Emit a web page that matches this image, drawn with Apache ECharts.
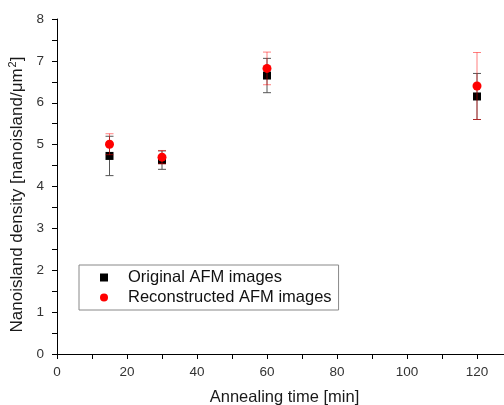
<!DOCTYPE html>
<html><head><meta charset="utf-8">
<script src="https://cdn.jsdelivr.net/npm/echarts@6/dist/echarts.min.js"></script>
<style>html,body{margin:0;padding:0;background:#fff}#c{width:504px;height:405px}</style>
</head><body><div id="c"></div>
<script>
const times = [15, 30, 60, 120];
const original = [4.73, 4.63, 6.65, 6.15];
const originalErr = [0.47, 0.22, 0.41, 0.55];
const reconstructed = [5.01, 4.70, 6.82, 6.40];
const reconstructedErr = [0.25, 0.16, 0.39, 0.80];
const xTicks = [0, 20, 40, 60, 80, 100, 120];
const yTicks = [0, 1, 2, 3, 4, 5, 6, 7, 8];

const FONT = '"Liberation Sans", Arial, sans-serif';
const chart = echarts.init(document.getElementById('c'), null, {renderer: 'canvas'});

function pts(v) { return times.map((t, i) => [t, v[i]]); }
function errs(v, e) { return times.map((t, i) => [t, v[i] - e[i], v[i] + e[i]]); }
function errRender(color) {
  return function (params, api) {
    const x = api.value(0);
    const lo = api.coord([x, api.value(1)]);
    const hi = api.coord([x, api.value(2)]);
    const hw = 4;
    const st = {stroke: color, lineWidth: 1, fill: null};
    return {type: 'group', children: [
      {type: 'line', shape: {x1: lo[0], y1: lo[1], x2: hi[0], y2: hi[1]}, style: st},
      {type: 'line', shape: {x1: lo[0] - hw, y1: lo[1], x2: lo[0] + hw, y2: lo[1]}, style: st},
      {type: 'line', shape: {x1: hi[0] - hw, y1: hi[1], x2: hi[0] + hw, y2: hi[1]}, style: st}
    ]};
  };
}

chart.setOption({
  animation: false,
  backgroundColor: '#fff',
  grid: {left: 57, right: -8, top: 19, bottom: 51, containLabel: false, outerBoundsMode: 'none'},
  xAxis: {
    type: 'value', min: 0, max: 130, interval: 10,
    name: 'Annealing time [min]', nameLocation: 'middle', nameGap: 35,
    nameTextStyle: {fontFamily: FONT, fontSize: 16.5, color: '#1a1a1a'},
    axisLine: {show: true, onZero: false, lineStyle: {color: '#000', width: 1}},
    axisTick: {show: true, inside: false, length: 5, lineStyle: {color: '#000'}},
    axisLabel: {fontFamily: FONT, fontSize: 13.5, color: '#333', margin: 11,
      formatter: v => xTicks.includes(v) ? String(v) : ''},
    splitLine: {show: false}
  },
  yAxis: {
    type: 'value', min: 0, max: 8, interval: 0.5,
    name: '{a|Nanoisland density [nanoisland/\u03bcm}{s|2}{a|]}',
    nameLocation: 'middle', nameGap: 28, nameRotate: 90,
    nameTextStyle: {padding: [0, 16, 0, 0], rich: {
      a: {fontFamily: FONT, fontSize: 17, color: '#1a1a1a'},
      s: {fontFamily: FONT, fontSize: 11, color: '#1a1a1a', verticalAlign: 'top', padding: [0, 0, 8, 1]}
    }},
    axisLine: {show: true, onZero: false, lineStyle: {color: '#000', width: 1}},
    axisTick: {show: true, inside: false, length: 5, lineStyle: {color: '#000'}},
    axisLabel: {fontFamily: FONT, fontSize: 13.5, color: '#333', margin: 13,
      formatter: v => yTicks.includes(v) ? String(v) : ''},
    splitLine: {show: false}
  },
  legend: {
    orient: 'vertical', left: 79, top: 265,
    borderColor: '#888', borderWidth: 1, padding: [3, 7, 3, 21],
    itemGap: 1, itemWidth: 8, itemHeight: 8,
    textStyle: {fontFamily: FONT, fontSize: 16.5, lineHeight: 19, color: '#111', padding: [0, 0, 0, 15]},
    data: [
      {name: 'Original AFM images', icon: 'rect', itemStyle: {color: '#000', opacity: 1}},
      {name: 'Reconstructed AFM images', icon: 'circle', itemStyle: {color: '#f00', opacity: 1}}
    ]
  },
  series: [
    {type: 'custom', name: 'origErr', data: errs(original, originalErr),
      renderItem: errRender('#555'), encode: {x: 0, y: [1, 2]}, z: 2, silent: true},
    {type: 'scatter', name: 'Original AFM images', data: pts(original),
      symbol: 'rect', symbolSize: 8, itemStyle: {color: '#000', opacity: 1}, z: 3},
    {type: 'custom', name: 'recErr', data: errs(reconstructed, reconstructedErr),
      renderItem: errRender('rgba(255,0,0,0.5)'), encode: {x: 0, y: [1, 2]}, z: 4, silent: true},
    {type: 'scatter', name: 'Reconstructed AFM images', data: pts(reconstructed),
      symbol: 'circle', symbolSize: 9, itemStyle: {color: '#f00', opacity: 1}, z: 5}
  ]
});
</script></body></html>
